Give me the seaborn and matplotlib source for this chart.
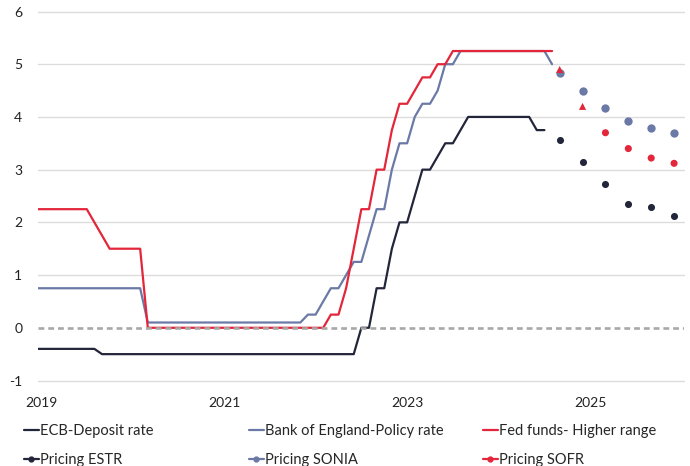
import matplotlib
matplotlib.use("Agg")
import matplotlib.pyplot as plt
import seaborn as sns
import pandas as pd
from matplotlib.lines import Line2D

# ---------------- data (month-end policy rates, %) ----------------
hist_start = "2018-12"
ecb_deposit = [
    -0.40,
    -0.40, -0.40, -0.40, -0.40, -0.40, -0.40, -0.40, -0.40, -0.50, -0.50, -0.50, -0.50,
    -0.50, -0.50, -0.50, -0.50, -0.50, -0.50, -0.50, -0.50, -0.50, -0.50, -0.50, -0.50,
    -0.50, -0.50, -0.50, -0.50, -0.50, -0.50, -0.50, -0.50, -0.50, -0.50, -0.50, -0.50,
    -0.50, -0.50, -0.50, -0.50, -0.50, -0.50, 0.00, 0.00, 0.75, 0.75, 1.50, 2.00,
    2.00, 2.50, 3.00, 3.00, 3.25, 3.50, 3.50, 3.75, 4.00, 4.00, 4.00, 4.00,
    4.00, 4.00, 4.00, 4.00, 4.00, 3.75, 3.75,
]
boe_policy = [
    0.75,
    0.75, 0.75, 0.75, 0.75, 0.75, 0.75, 0.75, 0.75, 0.75, 0.75, 0.75, 0.75,
    0.75, 0.75, 0.10, 0.10, 0.10, 0.10, 0.10, 0.10, 0.10, 0.10, 0.10, 0.10,
    0.10, 0.10, 0.10, 0.10, 0.10, 0.10, 0.10, 0.10, 0.10, 0.10, 0.10, 0.25,
    0.25, 0.50, 0.75, 0.75, 1.00, 1.25, 1.25, 1.75, 2.25, 2.25, 3.00, 3.50,
    3.50, 4.00, 4.25, 4.25, 4.50, 5.00, 5.00, 5.25, 5.25, 5.25, 5.25, 5.25,
    5.25, 5.25, 5.25, 5.25, 5.25, 5.25, 5.25, 5.00,
]
fed_funds = [
    2.25,
    2.25, 2.25, 2.25, 2.25, 2.25, 2.25, 2.25, 2.00, 1.75, 1.50, 1.50, 1.50,
    1.50, 1.50, 0.00, 0.00, 0.00, 0.00, 0.00, 0.00, 0.00, 0.00, 0.00, 0.00,
    0.00, 0.00, 0.00, 0.00, 0.00, 0.00, 0.00, 0.00, 0.00, 0.00, 0.00, 0.00,
    0.00, 0.00, 0.25, 0.25, 0.75, 1.50, 2.25, 2.25, 3.00, 3.00, 3.75, 4.25,
    4.25, 4.50, 4.75, 4.75, 5.00, 5.00, 5.25, 5.25, 5.25, 5.25, 5.25, 5.25,
    5.25, 5.25, 5.25, 5.25, 5.25, 5.25, 5.25, 5.25,
]
pricing_months = ["2024-09", "2024-12", "2025-03", "2025-06", "2025-09", "2025-12"]
pricing_estr = [3.57, 3.14, 2.73, 2.35, 2.29, 2.13]
pricing_sonia = [4.84, 4.49, 4.17, 3.93, 3.79, 3.69]
pricing_sofr = [4.90, 4.20, 3.70, 3.40, 3.22, 3.12]
sofr_marker_kind = ["tri", "tri", "dot", "dot", "dot", "dot"]

year_ticks = [2019, 2021, 2023, 2025]
y_ticks = [-1, 0, 1, 2, 3, 4, 5, 6]

labels = ["ECB-Deposit rate", "Bank of England-Policy rate", "Fed funds- Higher range",
          "Pricing ESTR", "Pricing SONIA", "Pricing SOFR"]

# ---------------- helpers ----------------
def month_index(s):
    y, m = s.split("-")
    return (int(y) - 2019) * 12 + int(m) - 1

def monthly_x(n):
    p = pd.period_range(hist_start, periods=n, freq="M")
    return [(q.year - 2019) * 12 + q.month - 1 for q in p]

C_ECB = "#23263a"
C_BOE = "#6b79a6"
C_FED = "#e3263a"

sns.set_theme(style="white")
plt.rcParams["font.family"] = ["Lato", "DejaVu Sans"]

fig = plt.figure(figsize=(6.9, 4.66), dpi=100)
ax = fig.add_axes([37.5 / 690, 1 - 380.5 / 466, (684 - 37.5) / 690, (380.5 - 11.5) / 466])

df_ecb = pd.DataFrame({"x": monthly_x(len(ecb_deposit)), "y": ecb_deposit})
df_boe = pd.DataFrame({"x": monthly_x(len(boe_policy)), "y": boe_policy})
df_fed = pd.DataFrame({"x": monthly_x(len(fed_funds)), "y": fed_funds})

lw = 1.6
sns.lineplot(data=df_ecb, x="x", y="y", color=C_ECB, lw=lw, ax=ax, zorder=3)
sns.lineplot(data=df_boe, x="x", y="y", color=C_BOE, lw=lw, ax=ax, zorder=3)
sns.lineplot(data=df_fed, x="x", y="y", color=C_FED, lw=lw, ax=ax, zorder=3)

px = [month_index(s) for s in pricing_months]
df_p = pd.DataFrame({"x": px, "estr": pricing_estr, "sonia": pricing_sonia,
                     "sofr": pricing_sofr, "kind": sofr_marker_kind})
sns.scatterplot(data=df_p, x="x", y="estr", color=C_ECB, s=26, linewidth=0, ax=ax, zorder=4)
sns.scatterplot(data=df_p, x="x", y="sonia", color=C_BOE, s=36, linewidth=0, ax=ax, zorder=4)
sns.scatterplot(data=df_p, x="x", y="sofr", style="kind", markers={"tri": "^", "dot": "o"},
                color=C_FED, s=26, linewidth=0, ax=ax, zorder=5, legend=False)

# grid
for yv in y_ticks:
    if yv == 0:
        ax.axhline(0, color="#a8a8a8", lw=1.9, ls=(0, (2.2, 1.5)), zorder=6)
    else:
        ax.axhline(yv, color="#dcdcdc", lw=1.0, zorder=1, clip_on=False)

ax.set_xlim(-0.46, 84.3)
ax.set_ylim(-1, 6)
ax.set_xticks([(y - 2019) * 12 for y in year_ticks])
ax.set_xticklabels([str(y) for y in year_ticks])
ax.set_yticks(y_ticks)
ax.set_yticklabels([str(v) for v in y_ticks])
ax.tick_params(axis="x", length=0, pad=12, labelsize=10, colors="#222222")
ax.tick_params(axis="y", length=0, pad=11, labelsize=10, colors="#222222")
ax.set_xlabel("")
ax.set_ylabel("")
for sp in ax.spines.values():
    sp.set_visible(False)
if ax.get_legend() is not None:
    ax.get_legend().remove()

# legend: three columns placed like the original
def h_line(c):
    return Line2D([], [], color=c, lw=lw)

def h_mark(c):
    return Line2D([], [], color=c, lw=lw, marker="o", markersize=3.5)

cols = [
    ([h_line(C_ECB), h_mark(C_ECB)], [labels[0], labels[3]], 24 / 690),
    ([h_line(C_BOE), h_mark(C_BOE)], [labels[1], labels[4]], 249 / 690),
    ([h_line(C_FED), h_mark(C_FED)], [labels[2], labels[5]], 483 / 690),
]
for hs, ls_, x0 in cols:
    fig.legend(hs, ls_, loc="upper left", bbox_to_anchor=(x0, 1 - 424 / 466),
               frameon=False, fontsize=10.5, handlelength=1.0, handletextpad=0.12,
               labelspacing=1.05, borderaxespad=0, borderpad=0)

fig.savefig("out.png", dpi=100)
